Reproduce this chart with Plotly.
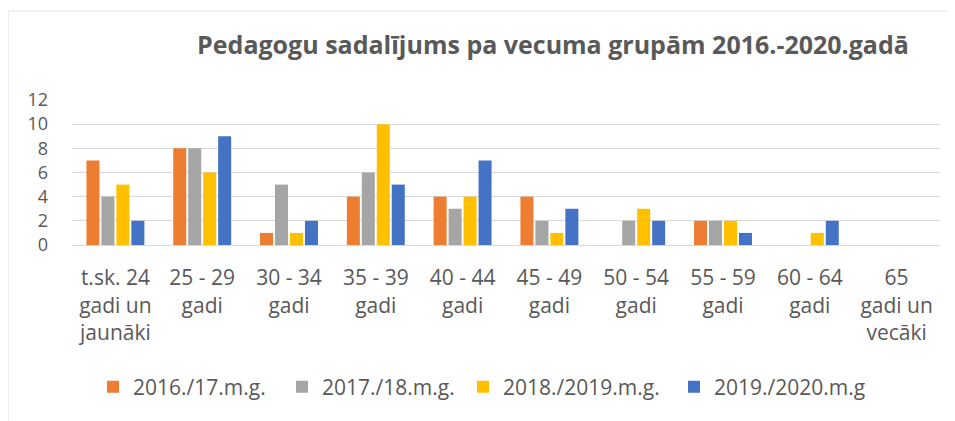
import plotly.graph_objects as go

categories = ["t.sk. 24<br>gadi un<br>jaunāki", "25 - 29<br>gadi", "30 - 34<br>gadi", "35 - 39<br>gadi",
              "40 - 44<br>gadi", "45 - 49<br>gadi", "50 - 54<br>gadi", "55 - 59<br>gadi",
              "60 - 64<br>gadi", "65<br>gadi un<br>vecāki"]
s2016 = [7, 8, 1, 4, 4, 4, 0, 2, 0, 0]
s2017 = [4, 8, 5, 6, 3, 2, 2, 2, 0, 0]
s2018 = [5, 6, 1, 10, 4, 1, 3, 2, 1, 0]
s2019 = [2, 9, 2, 5, 7, 3, 2, 1, 2, 0]
series_names = ["2016./17.m.g.", "2017./18.m.g.", "2018./2019.m.g.", "2019./2020.m.g"]
colors = ["#ED7D31", "#A5A5A5", "#FFC000", "#4472C4"]
yticks = [0, 2, 4, 6, 8, 10, 12]

font = "'Open Sans', sans-serif"
W, H = 947, 413
L, R, T, B = 64, 15, 92, 176
PW, PH = W - L - R, H - T - B

# legend entry start positions (page px) for each series
legend_px = [108, 297, 478, 689]
legend_ids = ["legend", "legend2", "legend3", "legend4"]

fig = go.Figure()
for name, vals, c, lid in zip(series_names, [s2016, s2017, s2018, s2019], colors, legend_ids):
    fig.add_trace(go.Bar(x=list(range(len(categories))), y=vals, name=name, legend=lid,
                         marker=dict(color=c, line=dict(width=0))))

legend_common = dict(orientation="h", xanchor="left", y=-142 / PH, yanchor="middle",
                     font=dict(size=21, color="#595959"), bgcolor="rgba(0,0,0,0)")
layout_legends = {}
for lid, px in zip(legend_ids, legend_px):
    layout_legends[lid] = dict(legend_common, x=(px - 15 - 72) / PW)

fig.update_layout(
    width=W, height=H,
    margin=dict(l=L, r=R, t=T, b=B),
    paper_bgcolor="white", plot_bgcolor="white",
    barmode="group", bargap=0.31, bargroupgap=0.13,
    font=dict(family=font, size=21, color="#595959"),
    title=dict(text="<b>Pedagogu sadalījums pa vecuma grupām 2016.-2020.gadā</b>",
               x=(553 - 72) / PW, xref="paper", xanchor="center", y=1 - 37 / H, yanchor="middle",
               font=dict(size=25, color="#595959")),
    showlegend=True,
    xaxis=dict(tickmode="array", tickvals=list(range(len(categories))), ticktext=categories,
               range=[-0.5, len(categories) - 0.5], showgrid=False, zeroline=False,
               showline=True, linecolor="#D9D9D9", linewidth=1, ticks="", tickangle=0,
               ticklabelstandoff=14),
    yaxis=dict(range=[0, 12], tickvals=yticks, showgrid=True, gridcolor="#D9D9D9", gridwidth=1,
               zeroline=False, showline=False, ticks="", ticklabelstandoff=23,
               tickfont=dict(size=18)),
    **layout_legends,
)
# outer frame (left and top edges)
fx = -L / PW
fy = 1 + (T - 3) / PH
fig.add_shape(type="line", xref="paper", yref="paper", x0=fx, x1=fx,
              y0=-B / PH, y1=fy, line=dict(color="#D9D9D9", width=1))
fig.add_shape(type="line", xref="paper", yref="paper", x0=fx, x1=1 + R / PW,
              y0=fy, y1=fy, line=dict(color="#E6E6E6", width=1))
fig.write_html("out.html")
